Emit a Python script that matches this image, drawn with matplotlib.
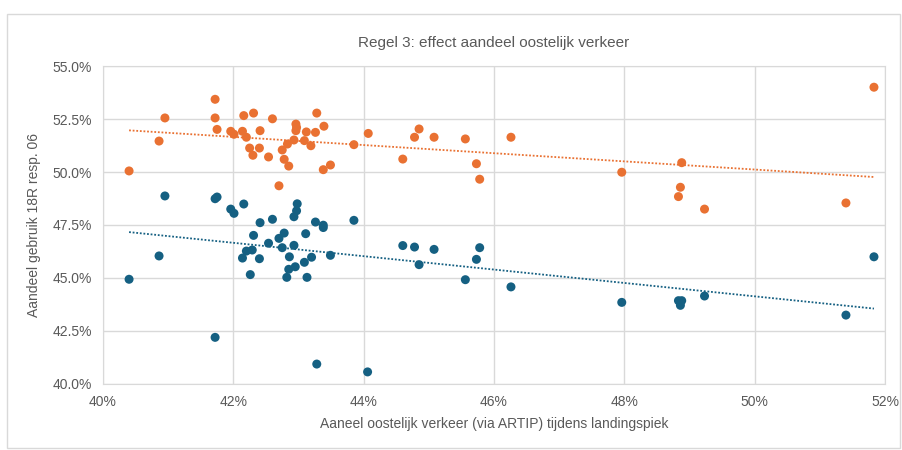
import numpy as np
import matplotlib.pyplot as plt
from matplotlib.patches import Rectangle
from matplotlib.ticker import FuncFormatter

# aandeel oostelijk verkeer (x) en aandeel gebruik 18R resp. 06 (y), in procenten
x_18r = [40.40, 40.86, 40.95, 41.72, 41.72, 41.75, 41.96, 42.01, 42.16, 42.31,
         42.14, 42.20, 42.25, 42.30, 42.41, 42.40, 42.60, 42.54, 42.70, 42.75,
         42.78, 42.85, 42.83, 42.93, 42.96, 42.97, 42.96, 43.09, 43.12, 43.19,
         43.26, 43.28, 43.39, 43.38, 43.49, 43.85, 44.07, 44.60, 44.78, 44.85,
         45.08, 45.56, 45.73, 45.78, 46.26, 47.96, 48.88, 48.86, 48.83, 49.23,
         51.40, 51.83]
y_18r = [50.05, 51.46, 52.55, 53.43, 52.55, 52.01, 51.92, 51.78, 52.66, 52.78,
         51.92, 51.64, 51.13, 50.79, 51.95, 51.13, 52.51, 50.71, 49.35, 51.04,
         50.60, 50.28, 51.32, 51.51, 52.26, 52.10, 51.95, 51.48, 51.89, 51.24,
         51.87, 52.78, 52.16, 50.11, 50.33, 51.29, 51.82, 50.61, 51.64, 52.03,
         51.64, 51.56, 50.39, 49.66, 51.64, 49.99, 50.44, 49.28, 48.84, 48.25,
         48.54, 54.00]

x_06 = [40.40, 40.86, 40.95, 41.72, 41.75, 41.72, 41.96, 42.01, 42.16, 42.31,
        42.20, 42.29, 42.14, 42.26, 42.41, 42.40, 42.60, 42.54, 42.70, 42.78,
        42.75, 42.86, 42.85, 42.82, 42.95, 42.93, 42.93, 42.97, 42.98, 43.09,
        43.11, 43.20, 43.13, 43.26, 43.38, 43.38, 43.49, 43.28, 43.85, 44.06,
        44.60, 44.78, 44.85, 45.08, 45.56, 45.73, 45.78, 46.26, 47.96, 48.83,
        48.88, 48.86, 49.23, 51.40, 51.83]
y_06 = [44.94, 46.04, 48.87, 48.74, 48.82, 42.20, 48.25, 48.05, 48.49, 47.01,
        46.27, 46.32, 45.94, 45.16, 47.61, 45.91, 47.77, 46.64, 46.87, 47.12,
        46.43, 46.00, 45.41, 45.03, 45.53, 46.54, 47.89, 48.17, 48.50, 45.74,
        47.09, 45.98, 45.03, 47.64, 47.49, 47.38, 46.07, 40.94, 47.72, 40.57,
        46.53, 46.46, 45.63, 46.35, 44.92, 45.88, 46.43, 44.58, 43.85, 43.93,
        43.93, 43.71, 44.15, 43.25, 46.00]

x_ticks = [40, 42, 44, 46, 48, 50, 52]
y_ticks = [40.0, 42.5, 45.0, 47.5, 50.0, 52.5, 55.0]

orange = "#E97132"
blue = "#156082"
grey_text = "#595959"
grid_col = "#D9D9D9"

plt.rcParams["font.family"] = ["Liberation Sans", "DejaVu Sans"]

fig = plt.figure(figsize=(9.02, 4.50), dpi=100)
fig.patches.append(Rectangle((0.008, 0.005), 0.99, 0.965, transform=fig.transFigure,
                             fill=False, edgecolor="#D9D9D9", linewidth=1))
ax = fig.add_axes([0.1142, 0.1467, 0.867, 0.7066])

for xs, ys, col in [(x_18r, y_18r, orange), (x_06, y_06, blue)]:
    ax.scatter(xs, ys, s=42, color=col, edgecolors="none", zorder=3)
    k, b = np.polyfit(xs, ys, 1)
    lx = np.array([min(xs), max(xs)])
    ax.plot(lx, k * lx + b, color=col, linestyle=(0, (1, 1)), linewidth=1.3, zorder=2)

ax.set_xlim(40, 52)
ax.set_ylim(40, 55)
ax.set_xticks(x_ticks)
ax.set_yticks(y_ticks)
ax.xaxis.set_major_formatter(FuncFormatter(lambda v, p: f"{v:.0f}%"))
ax.yaxis.set_major_formatter(FuncFormatter(lambda v, p: f"{v:.1f}%"))
ax.tick_params(length=0, labelsize=10, colors=grey_text, pad=8)
ax.grid(True, color=grid_col, linewidth=1)
ax.set_axisbelow(True)
for side in ["top", "right", "left", "bottom"]:
    ax.spines[side].set_color(grid_col)

ax.set_title("Regel 3: effect aandeel oostelijk verkeer", fontsize=11,
             color=grey_text, pad=14)
ax.set_xlabel("Aaneel oostelijk verkeer (via ARTIP) tijdens landingspiek",
              fontsize=10, color=grey_text, labelpad=6)
ax.set_ylabel("Aandeel gebruik 18R resp. 06", fontsize=10, color=grey_text, labelpad=8)

fig.savefig("out.png", dpi=100)
